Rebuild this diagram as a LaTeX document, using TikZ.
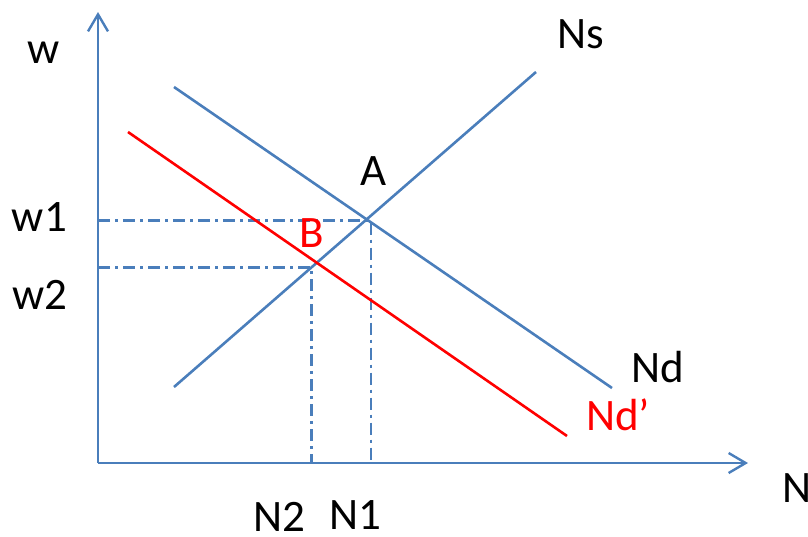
\documentclass[tikz,border=0pt]{standalone}
\usepackage{fontspec}
\setmainfont{Carlito}
\usetikzlibrary{arrows.meta}
\definecolor{axblue}{HTML}{4A7EBB}
\definecolor{nred}{HTML}{FF0000}
\begin{document}
\begin{tikzpicture}[x=1pt,y=-1pt,
  curve/.style={line width=2.6pt},
  axis/.style={axblue,line width=2.4pt,-{Straight Barb[length=17pt,width=20pt,line width=2.4pt]}},
  guide/.style={axblue,line width=2.4pt,dash pattern=on 12pt off 5pt on 3pt off 5pt},
  lbl/.style={anchor=base west,inner sep=0pt,outer sep=0pt},
  sz/.style={font=\fontsize{#1}{#1}\selectfont}]
\useasboundingbox (0,0) rectangle (808,536);
% axes
\coordinate (O) at (98,463);
\coordinate (ytop) at (98,12);
\coordinate (xend) at (748,463);
\draw[axis] (O) -- (ytop);
\draw[axis] (O) -- (xend);
% curve endpoints
\coordinate (ns1) at (174,387);
\coordinate (ns2) at (536,72);
\coordinate (nd1) at (174,87);
\coordinate (nd2) at (612,388);
\coordinate (ndp1) at (128,132);
\coordinate (ndp2) at (567,436);
% guide corners
\coordinate (w1y) at (98,220.5);
\coordinate (Acorner) at (371,220.5);
\coordinate (N1x) at (371,463);
\coordinate (w2y) at (98,267.5);
\coordinate (Bcorner) at (311.5,267.5);
\coordinate (N2x) at (311.5,463);
\draw[guide] (w1y) -- (Acorner) -- (N1x);
\draw[guide] (w2y) -- (Bcorner) -- (N2x);
\draw[curve,axblue] (ns1) -- (ns2);
\draw[curve,axblue] (nd1) -- (nd2);
\draw[curve,nred] (ndp1) -- (ndp2);
% labels
\node[lbl,sz=45] (lw) at (27.5,63) {w};
\node[lbl,sz=45] (lw1) at (12,231.7) {w1};
\node[lbl,sz=45] (lw2) at (12.5,309.3) {w2};
\node[lbl,sz=45] (lns) at (557,48.5) {Ns};
\node[lbl,sz=45] (lA) at (360,185) {A};
\node[lbl,sz=45,text=nred] (lB) at (299.5,247.3) {B};
\node[lbl,sz=45] (lnd) at (631.5,382.7) {Nd};
\node[lbl,sz=45,text=nred] (lndp) at (586,430) {Nd’};
\node[lbl,sz=45] (lN2) at (253.5,531) {N2};
\node[lbl,sz=45] (lN1) at (329,529) {N1};
\node[lbl,sz=45] (lN) at (782.5,502.7) {N};
\end{tikzpicture}
\end{document}
